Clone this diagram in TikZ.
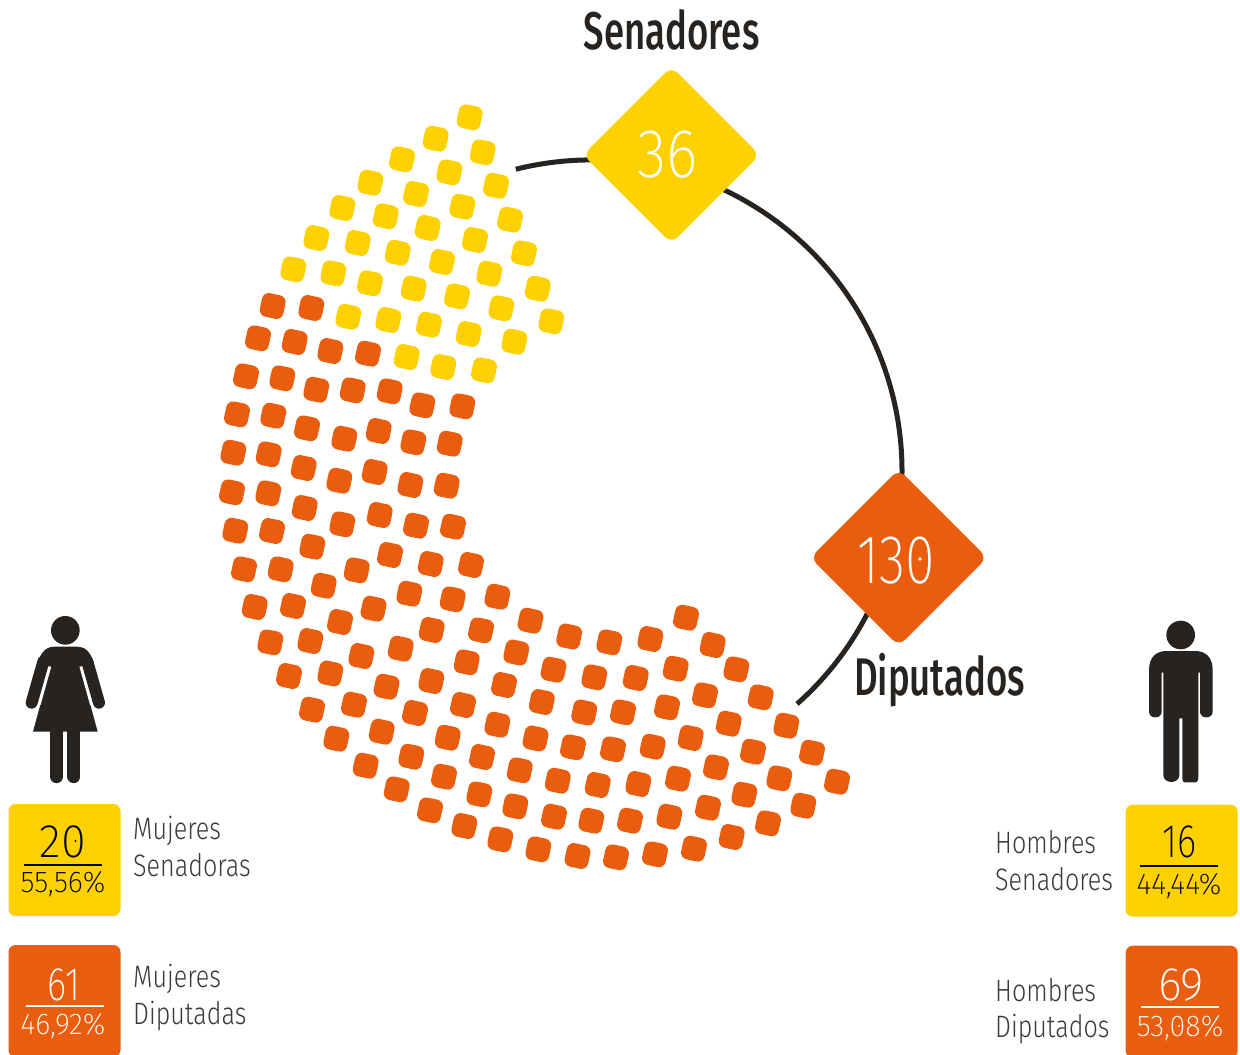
\documentclass[tikz,border=0pt]{standalone}
\usepackage{fontspec}
\usetikzlibrary{calc}
\setmainfont{Fira Sans}
\newfontfamily\thinf[FakeStretch=0.78]{Fira Sans ExtraLight}
\newfontfamily\thinb[FakeStretch=0.87]{Fira Sans ExtraLight}
\newfontfamily\thinw[FakeStretch=0.96]{Fira Sans ExtraLight}
\newfontfamily\labelf[FakeStretch=0.81]{Fira Sans Light}
\newfontfamily\headf[FakeStretch=0.69]{Fira Sans Medium}
\definecolor{ylw}{HTML}{FFD100}
\definecolor{org}{HTML}{EA5D0F}
\definecolor{ink}{HTML}{272320}
\definecolor{lbl}{HTML}{3C3A38}
\tikzset{
  seat/.style={minimum size=24pt,inner sep=0pt,rounded corners=7pt,rotate=-12},
  dia/.style={minimum size=125pt,inner sep=0pt,rounded corners=9pt,rotate=45},
  statbox/.style={minimum size=112pt,inner sep=0pt,rounded corners=7pt},
  big/.style={anchor=base,inner sep=0pt,text=white,font=\thinf\fontsize{69}{69}\selectfont},
  bigw/.style={big,font=\thinb\fontsize{69}{69}\selectfont},
  stat/.style={anchor=base,inner sep=0pt,font=\thinf\fontsize{47}{47}\selectfont},
  statw/.style={stat,font=\thinw\fontsize{47}{47}\selectfont},
  pct/.style={anchor=base,inner sep=0pt,font=\thinw\fontsize{30}{30}\selectfont},
  lab/.style={anchor=base west,inner sep=0pt,text=lbl,font=\labelf\fontsize{31}{31}\selectfont},
  head/.style={anchor=base,inner sep=0pt,text=ink,font=\headf\fontsize{53}{53}\selectfont},
  ring/.style={draw=ink,line width=5pt},
  figure/.style={fill=ink},
  limb/.style={draw=ink,line cap=round}
}
\begin{document}
\begin{tikzpicture}[x=1pt,y=-1pt]
\useasboundingbox (0,0) rectangle (1240,1055);
% ring
\coordinate (ringc) at (591,471);
\draw[ring] ($(ringc)+(104:311pt)$) arc[start angle=104,end angle=-48.5,radius=311pt];
% seats
\foreach \x/\y [count=\i] in {469.7/117.3,435.7/138.7,482.7/152.3,402/159.3,449.3/172.3,496/185.7,370.3/182.7,416/194,462.3/206.7,510/219.7,342.3/208,385.7/216.3,427.7/228,475/240,524/253.3,316.3/238,357.7/243,397.7/252.7,442/262,489.3/273.7,537.7/288.7,293.3/269.3,333.3/273.3,370/283.3,413.7/288.7,457/296.3,501.3/308.3,551.3/321.3,348.3/316.7,388.3/320,429/324.7,468.7/334,514.3/341.7,406.7/357,443.3/367,484/370.3}
  \node[seat,fill=ylw] (y\i) at (\x,\y) {};
\foreach \x/\y [count=\i] in {272.7/306,311.3/308,258/338.3,294.7/342,330.3/351,368/353.7,246/376.3,282.3/378.3,316.3/389.7,352.7/390.3,389.7/391.3,422.3/405.3,462.3/406.3,
237/414.3,273.3/415.7,307/428.3,344.3/438.7,378.7/431,413.3/442.3,449.7/443.7,
233.3/452.7,268.7/454.3,303.7/468,339.3/480.7,374.7/472,410.3/485,446.7/485.7,
232/492.3,268.3/493.3,304.7/508,342.3/524.3,379.7/515,416/525.7,453/526.7,
235.3/530.7,272/531,312.3/546.7,356.7/570.3,390/555,430.7/564,471/565,
244/569.3,280.7/569.3,323.7/585.7,409.3/593.7,452.7/599.3,497.3/596.7,
254.7/607,293/606,340/622,373.5/608.7,431.7/630,481/630.3,530.5/620.7,
270.3/642.3,310.3/641,361.3/656,400.7/648.7,466.7/662.3,516.3/652.5,569.2/636.5,
289/676,330.3/673.5,386.5/686.7,431.3/681,504/685,553.5/669.7,
541.8/702,584.2/712.5,312/709.7,354/704.7,415/713,463/705,497.3/724.7,535.5/738.5,573/747.3,336.3/738.7,381.7/731.7,447.7/737.7,411.3/756.7,482/757,519.7/770.3,557.8/780.7,365.7/765.7,444/776.7,479.3/794.3,515.3/806.3,554/816.7,396.7/789.3,430/810.3,464.3/826,500.3/839.3,538.3/849.3,577.5/856,
686/617.7,712.7/645,609.3/642.3,650.3/639,594.3/677.3,635.7/678,675.7/668.7,736.3/669.3,760.7/697.3,705/695.3,623/712.3,667/707.3,728.7/723.7,786.3/725.7,613/749.3,652.7/746.7,690.7/738,753/751.7,812/752.7,597.7/785,638.3/784,678/778.7,716/767.3,779.3/778.3,837/781.7,591.3/820.7,630/820.7,669.3/816.7,708/807.7,744.3/794.7,803.3/805.7,616/857.3,655/854.3,694/848.7,731.7/837,768/823.3}
  \node[seat,fill=org] (o\i) at (\x,\y) {};
% diamonds
\node[dia,fill=ylw] (dsen) at (671.4,155) {};
\node[dia,fill=org] (ddip) at (898.7,557.7) {};
\node[bigw] (n36) at (668,177.7) {36};
\node[big] (n130) at (896,583.3) {130};
\fill[white] (920,559) circle (1.8pt);
\node[head] (tsen) at (671.5,49.3) {Senadores};
\node[head] (tdip) at (939.5,695.5) {Diputados};
% woman
\begin{scope}[shift={(0,600)},scale=1/3]
\fill[figure] (196,91) circle (43);
\fill[figure] (112,190) .. controls (125,152) and (140,140) .. (165,140) -- (228,140) .. controls (255,140) and (270,152) .. (282,190) -- (240,200) -- (293,395) -- (99,395) -- (152,200) -- cycle;
\draw[limb,line width=12pt] (130,185) -- (95,308);
\draw[limb,line width=12pt] (262,185) -- (297,308);
\draw[white,line width=1.1pt] (152,200) -- (120,315);
\draw[white,line width=1.1pt] (240,200) -- (272,315);
\draw[limb,line width=13pt] (170,395) -- (170,530);
\draw[limb,line width=13pt] (222,395) -- (222,530);
\end{scope}
% man
\begin{scope}[shift={(980,600)},scale=1/3]
\fill[figure] (602,105) circle (43);
\fill[figure] (507,210) .. controls (507,170) and (530,153) .. (560,153) -- (645,153) .. controls (675,153) and (698,170) .. (698,210) -- (698,335) .. controls (698,358) and (660,358) .. (660,335) -- (660,218) -- (655,218) -- (655,530) .. controls (655,547) and (650,547) .. (640,547) -- (620,547) .. controls (610,547) and (607,547) .. (607,530) -- (607,355) -- (598,355) -- (598,525) .. controls (598,553) and (550,553) .. (550,525) -- (550,218) -- (545,218) -- (545,335) .. controls (545,358) and (507,358) .. (507,335) -- cycle;
\end{scope}
% boxes
\node[statbox,fill=ylw] (bws) at (64.5,860) {};
\node[statbox,fill=org] (bwd) at (64.5,1001) {};
\node[statbox,fill=ylw] (bms) at (1181.7,860.7) {};
\node[statbox,fill=org] (bmd) at (1181.7,1001.7) {};
\draw[black,line width=1.7pt] (24,865) -- (102,865);
\draw[white,line width=1.7pt] (26,1006) -- (104,1006);
\draw[black,line width=1.7pt] (1140,866) -- (1218,866);
\draw[white,line width=1.7pt] (1141,1007) -- (1219,1007);
\node[statw,text=black] (s20) at (63,857) {20};
\fill[black] (75.5,841) circle (1.2pt);
\node[pct,text=black] (p20) at (63,892.7) {55,56\%};
\node[stat,text=white] (s61) at (64,1000) {61};
\node[pct,text=white] (p61) at (63,1034.7) {46,92\%};
\node[stat,text=black] (s16) at (1179.5,857.3) {16};
\node[pct,text=black] (p16) at (1179,894) {44,44\%};
\node[statw,text=white] (s69) at (1181,1000.7) {69};
\node[pct,text=white] (p69) at (1180,1036) {53,08\%};
\fill[white] (1179,1026) circle (1pt);
% labels
\node[lab] (l1) at (133,839) {Mujeres};
\node[lab] (l2) at (133,876.3) {Senadoras};
\node[lab] (l3) at (133,987.7) {Mujeres};
\node[lab] (l4) at (133,1024.5) {Diputadas};
\node[lab] (l5) at (995,853.3) {Hombres};
\node[lab] (l6) at (995,890.3) {Senadores};
\node[lab] (l7) at (995,1001) {Hombres};
\node[lab] (l8) at (995,1037.5) {Diputados};
\end{tikzpicture}
\end{document}
